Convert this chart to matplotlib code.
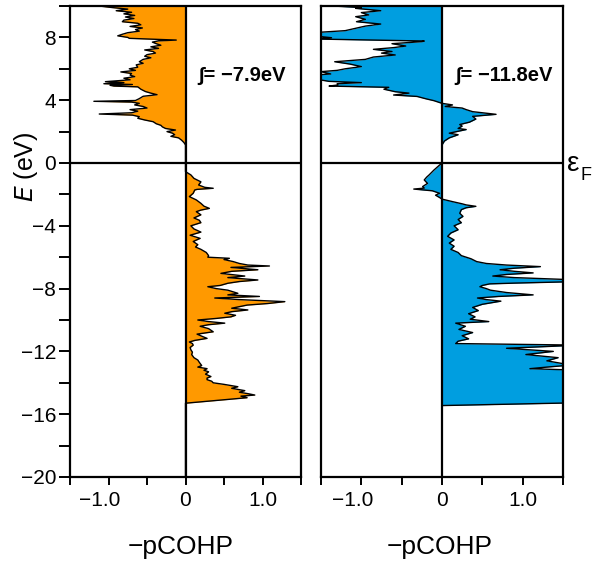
import matplotlib
matplotlib.use("Agg")
import matplotlib.pyplot as plt
import matplotlib.transforms as mtransforms
import numpy as np

plt.rcParams['font.family'] = ['Liberation Sans', 'DejaVu Sans']

# ---------------- data ----------------
# Left panel (orange): energy (eV) and -pCOHP
E_left = [10.2, 10.0, 9.9, 9.8, 9.7, 9.6, 9.5, 9.4, 9.3, 9.2, 9.1, 9.0, 8.9, 8.8, 8.7, 8.6,
          8.5, 8.4, 8.3, 8.2, 8.1, 8.0, 7.94, 7.83, 7.78, 7.7, 7.6, 7.5, 7.4, 7.3, 7.2, 7.1,
          7.0, 6.9, 6.8, 6.7, 6.6, 6.45, 6.35, 6.25, 6.1, 6.0, 5.9, 5.8, 5.7, 5.6, 5.5, 5.4,
          5.3, 5.18, 5.12, 5.05, 5.0, 4.95, 4.9, 4.85, 4.7, 4.55, 4.45, 4.35, 4.25, 4.1, 3.98,
          3.93, 3.88, 3.8, 3.7, 3.6, 3.5, 3.4, 3.3, 3.2, 3.12, 3.05, 2.95, 2.85, 2.74, 2.63,
          2.5, 2.4, 2.3, 2.2, 2.1, 2.0, 1.9, 1.8, 1.7, 1.6, 1.45, 1.3, 1.15, -0.55, -0.76,
          -0.98, -1.2, -1.4, -1.55, -1.61, -1.68, -1.72, -1.93, -2.14, -2.35, -2.57, -2.75,
          -2.89, -3.0, -3.1, -3.3, -3.5, -3.65, -3.8, -4.0, -4.2, -4.4, -4.6, -4.8, -5.0,
          -5.2, -5.35, -5.5, -5.7, -5.9, -6.0, -6.07, -6.15, -6.28, -6.4, -6.5, -6.56, -6.65,
          -6.8, -6.9, -7.03, -7.2, -7.3, -7.45, -7.55, -7.66, -7.8, -7.88, -8.0, -8.1, -8.3,
          -8.4, -8.5, -8.6, -8.7, -8.83, -8.95, -9.05, -9.15, -9.25, -9.36, -9.47, -9.57,
          -9.7, -9.8, -9.9, -10.0, -10.1, -10.2, -10.3, -10.4, -10.55, -10.75, -10.9, -11.05,
          -11.17, -11.3, -11.4, -11.5, -11.6, -11.75, -11.9, -12.05, -12.2, -12.4, -12.55,
          -12.7, -12.9, -13.0, -13.1, -13.2, -13.3, -13.45, -13.6, -13.7, -13.8, -13.9, -14.0,
          -14.1, -14.25, -14.35, -14.5, -14.6, -14.7, -14.78, -14.85, -14.95, -15.3, -20.0]
COHP_left = [-1.0, -1.12, -0.95, -0.75, -0.9, -0.7, -0.8, -0.66, -0.78, -0.67, -0.8, -0.82,
             -0.62, -0.58, -0.72, -0.56, -0.65, -0.6, -0.75, -0.82, -0.88, -0.75, -0.73, -0.12,
             -0.35, -0.43, -0.38, -0.32, -0.45, -0.35, -0.53, -0.42, -0.39, -0.5, -0.53, -0.45,
             -0.55, -0.6, -0.55, -0.64, -0.62, -0.73, -0.65, -0.84, -0.7, -0.72, -0.66, -0.8,
             -0.72, -1.04, -0.8, -1.06, -0.69, -0.98, -0.93, -0.62, -0.58, -0.52, -0.45, -0.37,
             -0.55, -0.6, -0.65, -1.19, -0.7, -0.6, -0.66, -0.55, -0.5, -0.72, -0.62, -0.7,
             -1.12, -0.69, -0.6, -0.62, -0.53, -0.42, -0.38, -0.32, -0.3, -0.26, -0.13, -0.24,
             -0.17, -0.14, -0.19, -0.09, -0.05, -0.02, 0.0, 0.0, 0.07, 0.11, 0.2, 0.17, 0.25,
             0.36, 0.15, 0.12, 0.1, 0.05, 0.14, 0.2, 0.24, 0.31, 0.2, 0.14, 0.2, 0.11, 0.18,
             0.2, 0.07, 0.11, 0.2, 0.06, 0.19, 0.1, 0.16, 0.13, 0.2, 0.27, 0.3, 0.29, 0.57,
             0.5, 0.62, 0.7, 0.81, 1.09, 0.59, 0.94, 0.6, 0.46, 0.77, 0.55, 0.94, 0.7, 0.55,
             0.45, 0.29, 0.4, 0.55, 0.68, 0.55, 0.96, 0.38, 0.7, 1.29, 1.07, 0.8, 0.7, 0.6,
             0.81, 0.6, 0.51, 0.65, 0.59, 0.4, 0.16, 0.3, 0.51, 0.3, 0.19, 0.3, 0.36, 0.15,
             0.22, 0.28, 0.12, 0.05, 0.09, 0.1, 0.06, 0.07, 0.09, 0.08, 0.11, 0.16, 0.18, 0.21,
             0.16, 0.28, 0.24, 0.3, 0.26, 0.33, 0.28, 0.28, 0.34, 0.36, 0.5, 0.68, 0.6, 0.77,
             0.7, 0.82, 0.9, 0.72, 0.8, 0.0, 0.0]

# Right panel (blue)
E_right = [10.2, 10.0, 9.9, 9.85, 9.7, 9.58, 9.43, 9.32, 9.15, 9.0, 8.85, 8.72, 8.58, 8.43,
           8.3, 8.1, 7.98, 7.9, 7.77, 7.73, 7.6, 7.45, 7.35, 7.24, 7.1, 7.0, 6.88, 6.75, 6.6,
           6.45, 6.3, 6.14, 6.0, 5.9, 5.82, 5.67, 5.6, 5.5, 5.33, 5.2, 5.12, 5.05, 4.97, 4.9,
           4.82, 4.7, 4.54, 4.45, 4.33, 4.24, 4.09, 3.97, 3.8, 3.7, 3.6, 3.5, 3.4, 3.27, 3.1,
           2.97, 2.8, 2.6, 2.45, 2.35, 2.2, 2.13, 1.9, 1.8, 1.6, 1.4, 1.15, 0.0, -0.13, -0.45,
           -0.76, -0.9, -1.08, -1.3, -1.5, -1.6, -1.66, -1.77, -1.93, -2.05, -2.2, -2.3, -2.46,
           -2.6, -2.67, -2.76, -2.85, -2.97, -3.2, -3.4, -3.6, -3.8, -4.0, -4.25, -4.46, -4.67,
           -4.9, -5.1, -5.3, -5.5, -5.7, -5.9, -6.1, -6.28, -6.4, -6.5, -6.6, -6.7, -6.8, -6.9,
           -7.0, -7.1, -7.2, -7.3, -7.45, -7.55, -7.65, -7.7, -7.8, -7.88, -8.0, -8.1, -8.25,
           -8.4, -8.5, -8.6, -8.7, -8.8, -9.0, -9.2, -9.4, -9.6, -9.8, -9.95, -10.1, -10.2,
           -10.4, -10.6, -10.8, -11.0, -11.2, -11.35, -11.5, -11.6, -11.8, -11.9, -12.0,
           -12.2, -12.4, -12.6, -12.87, -13.0, -13.1, -13.2, -15.27, -15.45, -20.0]
COHP_right = [-1.2, -1.35, -1.0, -1.07, -0.76, -1.0, -0.91, -1.07, -0.95, -1.06, -0.76, -0.95,
              -1.07, -1.2, -1.6, -1.6, -1.37, -1.6, -0.22, -0.25, -0.62, -0.45, -0.6, -0.85,
              -0.62, -0.75, -0.58, -0.85, -0.95, -1.33, -1.14, -1.0, -1.2, -1.3, -1.5, -1.38,
              -1.6, -1.5, -1.55, -1.4, -1.0, -1.3, -1.29, -1.4, -0.66, -0.72, -0.58, -0.41,
              -0.6, -0.31, -0.2, -0.1, 0.0, 0.13, 0.04, 0.25, 0.3, 0.38, 0.67, 0.38, 0.42,
              0.34, 0.22, 0.25, 0.2, 0.3, 0.09, 0.2, 0.09, 0.03, 0.0, 0.0, -0.03, -0.1, -0.16,
              -0.19, -0.22, -0.18, -0.24, -0.22, -0.35, -0.12, -0.03, -0.08, -0.03, 0.0, 0.13,
              0.25, 0.3, 0.42, 0.3, 0.24, 0.22, 0.26, 0.2, 0.24, 0.15, 0.2, 0.11, 0.07, 0.15,
              0.09, 0.15, 0.11, 0.2, 0.24, 0.36, 0.43, 0.55, 0.8, 1.22, 0.9, 0.72, 0.9, 1.13,
              0.8, 0.63, 0.9, 1.7, 1.7, 0.9, 0.59, 0.5, 0.47, 0.55, 0.6, 0.8, 1.13, 0.7, 0.44,
              0.55, 0.73, 0.5, 0.38, 0.45, 0.33, 0.41, 0.35, 0.58, 0.17, 0.29, 0.21, 0.38, 0.25,
              0.33, 0.2, 0.17, 1.7, 0.8, 1.1, 1.38, 1.04, 1.44, 1.3, 1.6, 1.3, 1.09, 1.7, 1.7,
              0.0, 0.0]

integrals = ["\u222b= \u22127.9eV", "\u222b= \u221211.8eV"]
colors = ["#FF9900", "#009EE0"]
yticks_major = [8, 4, 0, -4, -8, -12, -16, -20]
xticks_major = [-1.0, 0.0, 1.0]
xtick_labels = ["\u22121.0", "0", "1.0"]

# ---------------- figure ----------------
W, H = 592, 569
fig = plt.figure(figsize=(W / 100, H / 100), dpi=100)

def fbox(x0, y0, x1, y1):
    return [x0 / W, 1 - y1 / H, (x1 - x0) / W, (y1 - y0) / H]

axL = fig.add_axes(fbox(70, 6, 301, 477))
axR = fig.add_axes(fbox(321, 6, 563, 477))

for ax, E, V, col, txt in [(axL, E_left, COHP_left, colors[0], integrals[0]),
                           (axR, E_right, COHP_right, colors[1], integrals[1])]:
    ax.fill_betweenx(E, 0, V, color=col, lw=0, zorder=1)
    ax.plot(V, E, color='black', lw=1.0, zorder=2)
    ax.axvline(0, color='black', lw=1.6, zorder=3)
    ax.axhline(0, color='black', lw=1.6, zorder=3)
    ax.set_xlim(-1.5, 1.5)
    ax.set_ylim(-20, 10)
    for s in ax.spines.values():
        s.set_linewidth(1.6)
    ax.set_xticks(np.arange(-1.5, 1.51, 0.5), minor=True)
    ax.set_xticks(xticks_major)
    ax.set_xticklabels(xtick_labels)
    ax.tick_params(axis='x', which='both', direction='out', length=6, width=1.4,
                   labelsize=15, pad=4)
    ax.text(0.16, 5.55, txt, fontsize=14.5, fontweight='bold', ha='left', va='center',
            zorder=4)
    # offset negative label so the number (not the minus) is centred
    for lab in ax.get_xticklabels():
        if lab.get_text().startswith("\u2212"):
            lab.set_transform(lab.get_transform() +
                              mtransforms.ScaledTranslation(-9 / 100, 0, fig.dpi_scale_trans))

axL.set_yticks(yticks_major)
axL.set_yticks(np.arange(-20, 10.1, 2), minor=True)
axL.set_yticklabels([("\u2212%d" % -v) if v < 0 else "%d" % v for v in yticks_major])
axL.tick_params(axis='y', which='both', direction='out', length=8, width=1.4,
                labelsize=15, pad=2)
axR.set_yticks([])
axR.tick_params(axis='y', which='both', length=0)

fig.text(26 / W, 1 - 167 / H, r"$E$ (eV)", rotation=90, ha='center', va='center',
         fontsize=18)
fig.text(181 / W, 1 - 547 / H, "\u2212pCOHP", ha='center', va='center', fontsize=19)
fig.text(440 / W, 1 - 547 / H, "\u2212pCOHP", ha='center', va='center', fontsize=19)
fig.text(567 / W, 1 - 164 / H, "\u03b5", ha='left', va='center', fontsize=20)
fig.text(580 / W, 1 - 176 / H, "F", ha='left', va='center', fontsize=13)

fig.savefig("out.png", dpi=100)
